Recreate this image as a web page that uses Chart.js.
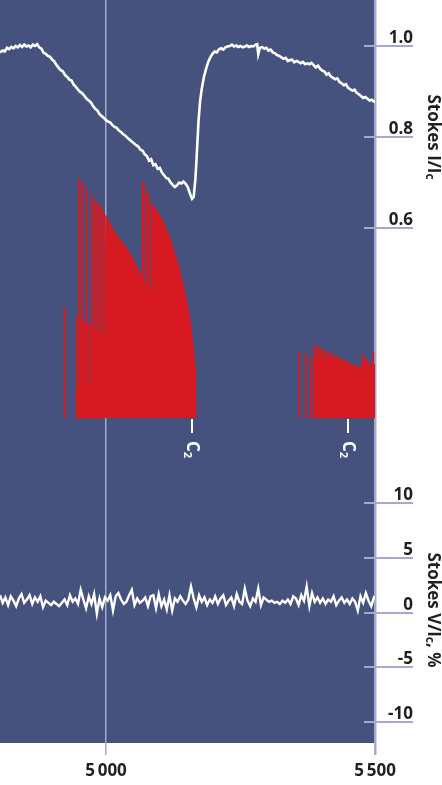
<!DOCTYPE html>
<html>
<head>
<meta charset="utf-8">
<script src="https://cdn.jsdelivr.net/npm/chart.js@4.4.1/dist/chart.umd.min.js"></script>
<style>
  html, body { margin: 0; padding: 0; background: #fff; }
  canvas { display: block; }
</style>
</head>
<body>
<canvas id="chart" width="442" height="785"></canvas>
<script>
// x axis (wavelength, A)
var xTicks = [5000, 5500];
var xTickLabels = ['5\u2009000', '5\u2009500'];
var iTicks = [0.6, 0.8, 1.0];
var vTicks = [-10, -5, 0, 5, 10];
var c2Heads = [5159, 5450];

// Stokes I/Ic
var iWave = [4803, 4808, 4812, 4816, 4820, 4824, 4828, 4832, 4836, 4840, 4844, 4848, 4852, 4856, 4860, 4864, 4868, 4872, 4876, 4880,
  4884, 4888, 4892, 4896, 4900, 4904, 4908, 4912, 4916, 4920, 4924, 4928, 4932, 4936, 4940, 4944, 4948, 4952, 4956, 4960,
  4964, 4968, 4972, 4976, 4980, 4984, 4988, 4992, 4996, 5000, 5004, 5008, 5012, 5016, 5020, 5024, 5028, 5032, 5036, 5040,
  5044, 5048, 5052, 5056, 5060, 5064, 5068, 5072, 5076, 5080, 5084, 5088, 5092, 5096, 5100, 5104, 5108, 5112, 5116, 5120,
  5124, 5128, 5132, 5136, 5140, 5144, 5148, 5152, 5156, 5160, 5163, 5166, 5168, 5170, 5172, 5175, 5178, 5182, 5186, 5190,
  5194, 5198, 5202, 5206, 5210, 5214, 5218, 5222, 5226, 5230, 5234, 5238, 5242, 5246, 5250, 5254, 5258, 5262, 5266, 5270,
  5274, 5278, 5281, 5283, 5286, 5290, 5294, 5298, 5302, 5306, 5310, 5314, 5318, 5322, 5326, 5330, 5334, 5338, 5342, 5346,
  5350, 5354, 5358, 5362, 5366, 5370, 5374, 5378, 5382, 5386, 5390, 5394, 5398, 5402, 5406, 5410, 5414, 5418, 5422, 5426,
  5430, 5434, 5438, 5442, 5446, 5450, 5454, 5458, 5462, 5466, 5470, 5474, 5478, 5482, 5486, 5490, 5494, 5498, 5500];
var iFlux = [0.986, 0.990, 0.988, 0.996, 0.993, 0.998, 0.995, 1.000, 0.997, 1.002, 0.998, 1.003, 0.999, 1.001, 0.997, 1.003, 1.000, 1.004, 0.997, 0.994,
  0.985, 0.983, 0.978, 0.976, 0.970, 0.966, 0.958, 0.952, 0.947, 0.944, 0.936, 0.932, 0.926, 0.924, 0.915, 0.910, 0.904, 0.899, 0.896, 0.890,
  0.884, 0.880, 0.876, 0.868, 0.862, 0.858, 0.850, 0.846, 0.842, 0.837, 0.834, 0.832, 0.826, 0.822, 0.820, 0.814, 0.811, 0.806, 0.803, 0.798,
  0.794, 0.790, 0.786, 0.782, 0.779, 0.772, 0.770, 0.762, 0.758, 0.748, 0.751, 0.738, 0.740, 0.730, 0.732, 0.722, 0.716, 0.710, 0.708, 0.700,
  0.695, 0.690, 0.694, 0.700, 0.698, 0.702, 0.697, 0.690, 0.676, 0.664, 0.668, 0.705, 0.745, 0.790, 0.835, 0.880, 0.906, 0.932, 0.950, 0.965,
  0.975, 0.983, 0.988, 0.986, 0.993, 0.995, 0.992, 0.997, 0.999, 1.000, 1.003, 0.999, 1.001, 0.998, 1.000, 0.997, 0.999, 1.001, 0.998, 1.000,
  0.999, 1.003, 1.004, 0.982, 0.996, 0.998, 0.994, 0.996, 0.990, 0.992, 0.986, 0.984, 0.980, 0.978, 0.975, 0.972, 0.974, 0.967, 0.969, 0.970,
  0.964, 0.967, 0.965, 0.962, 0.965, 0.960, 0.962, 0.960, 0.963, 0.958, 0.953, 0.957, 0.950, 0.946, 0.944, 0.937, 0.940, 0.933, 0.930, 0.927,
  0.929, 0.921, 0.918, 0.914, 0.916, 0.908, 0.905, 0.902, 0.904, 0.897, 0.894, 0.890, 0.886, 0.888, 0.884, 0.880, 0.882, 0.878, 0.877];

// Stokes V/Ic, %
var vWave = [4803, 4808, 4813, 4818, 4823, 4828, 4833, 4838, 4843, 4848, 4853, 4858, 4863, 4868, 4873, 4878, 4883, 4888, 4893, 4898,
  4903, 4908, 4913, 4918, 4923, 4928, 4933, 4938, 4943, 4948, 4953, 4958, 4963, 4968, 4973, 4978, 4983, 4988, 4993, 4998,
  5003, 5008, 5013, 5018, 5023, 5028, 5033, 5038, 5043, 5048, 5053, 5058, 5063, 5068, 5073, 5078, 5083, 5088, 5093, 5098,
  5103, 5108, 5113, 5118, 5123, 5128, 5133, 5138, 5143, 5148, 5153, 5158, 5163, 5168, 5173, 5178, 5183, 5188, 5193, 5198,
  5203, 5208, 5213, 5218, 5223, 5228, 5233, 5238, 5243, 5248, 5253, 5258, 5263, 5268, 5273, 5278, 5283, 5288, 5293, 5298,
  5303, 5308, 5313, 5318, 5323, 5328, 5333, 5338, 5343, 5348, 5353, 5358, 5363, 5368, 5373, 5378, 5383, 5388, 5393, 5398,
  5403, 5408, 5413, 5418, 5423, 5428, 5433, 5438, 5443, 5448, 5453, 5458, 5463, 5468, 5473, 5478, 5483, 5488, 5493, 5498, 5503];
var vPol = [1.6, 0.9, 1.4, 0.7, 1.5, 1.1, 0.6, 1.3, 1.7, 0.9,
  1.2, 1.6, 0.8, 1.4, 1.0, 1.5, 0.5, 1.1, 0.9, 0.7,
  1.0, 0.8, 0.6, 0.9, 1.2, 0.7, 1.6, 1.0, 1.3, 0.8,
  2.1, 1.2, 0.4, 1.5, 0.8, 1.7, -0.1, 1.3, 0.5, 1.4,
  1.1, 1.6, 0.2, 1.5, 1.8, 1.2, 0.8, 1.0, 1.6, 2.1,
  0.7, 1.3, 0.9, 1.1, 1.4, 0.6, 1.5, 1.6, 0.4, 1.7,
  0.6, 1.2, 0.3, 1.6, 0.2, 1.3, 1.0, 1.5, 1.1, 0.8,
  1.2, 2.4, 1.3, 0.5, 1.6, 1.0, 1.4, 0.7, 1.2, 0.9,
  1.5, 0.8, 1.3, 1.6, 0.7, 1.1, 1.4, 0.6, 1.7, 1.0,
  0.8, 2.2, 1.1, 0.6, 1.3, 1.0, 2.2, 0.7, 1.4, 1.2,
  1.0, 1.1, 0.9, 1.0, 0.8, 1.1, 0.9, 1.2, 0.8, 1.5,
  1.3, 0.7, 1.6, 1.1, 2.4, 0.6, 1.8, 1.0, 1.4, 0.9,
  1.3, 0.8, 1.2, 1.0, 1.5, 0.7, 1.1, 1.4, 0.9, 1.2,
  0.8, 1.3, 1.0, 0.2, 1.5, 0.9, 1.8, 1.1, 0.6, 1.4, 1.2];

// C2 Swan band: blended (solid) part and single lines, relative intensity
var c2BlendWave = [4944.6, 4945.0, 4976.2, 4976.8, 4997.6, 4998.5, 5007.4, 5016.7, 5026.0, 5035.3, 5044.6, 5053.9, 5063.2, 5072.5,
  5078.1, 5082.7, 5083.6, 5091.0, 5097.2, 5103.5, 5109.7, 5115.8, 5122.1, 5128.3, 5134.4, 5140.7, 5146.8, 5153.0, 5159.3,
  5162.3, 5165.4, 5167.3, 5167.8, 5387.5, 5388.5, 5416.3, 5444.2, 5472.1, 5474.9, 5475.8, 5490.7, 5502];
var c2BlendLevel = [0, 0.129, 0.133, 0.35, 0.342, 0.85, 0.8125, 0.775, 0.746, 0.721, 0.6875, 0.65, 0.604, 0.5625,
  0.542, 0.533, 0.896, 0.879, 0.858, 0.833, 0.804, 0.771, 0.733, 0.6875, 0.646, 0.5875, 0.533, 0.4625, 0.379,
  0.3125, 0.233, 0.2, 0, 0, 0.254, 0.25, 0.229, 0.2, 0.208, 0.233, 0.217, 0.2125];
var c2LineWave = [4923.2, 4945.5, 4950.4, 4953.0, 4955.9, 4957.8, 4961.0, 4964.1, 4967.1, 4971.6, 4974.0, 4976.4, 4978.3,
  4981.4, 4982.7, 4985.7, 4987.5, 4990.1, 4992.0, 4995.0, 4995.7, 5068.2, 5070.6, 5076.8, 5079.9,
  5359.3, 5371.7, 5381.6, 5387.2, 5391.6, 5395.9, 5399.6, 5403.9, 5408.9, 5413.2, 5417.6, 5422.5, 5426.9, 5430.7,
  5434.9, 5439.2, 5442.9, 5447.4, 5451.7, 5456.7, 5461.0, 5464.7, 5469.0, 5473.4, 5476.4, 5481.4, 5485.7, 5490.7,
  5496.8, 5498.7];
var c2LineLevel = [0.46, 0.426, 1.0, 0.417, 0.983, 0.40, 0.396, 0.958, 0.392, 0.3875, 0.929, 0.379, 0.904,
  0.367, 0.90, 0.354, 0.8875, 0.354, 0.875, 0.346, 0.858, 0.985, 0.971, 0.943, 0.922,
  0.274, 0.267, 0.255, 0.301, 0.297, 0.293, 0.2875, 0.283, 0.279, 0.274, 0.27, 0.264, 0.26, 0.255,
  0.249, 0.245, 0.242, 0.236, 0.232, 0.225, 0.221, 0.217, 0.214, 0.211, 0.2625, 0.253, 0.242, 0.232,
  0.27, 0.225];

var BLUE = '#45527e';
var LAV = '#a4a9cf';
var RED = '#d71a21';
var INK = '#231f20';
var FONT = '"Open Sans", "DejaVu Sans", sans-serif';

function pts(xs, ys) {
  return xs.map(function (x, i) { return { x: x, y: ys[i] }; });
}

function drawTitle(ctx, parts, cx, cy) {
  ctx.save();
  ctx.translate(cx, cy);
  ctx.rotate(Math.PI / 2);
  ctx.fillStyle = INK;
  ctx.textBaseline = 'middle';
  ctx.textAlign = 'left';
  var total = 0;
  parts.forEach(function (p) {
    ctx.font = 'bold ' + (p[1] ? 12 : 17) + 'px ' + FONT;
    total += ctx.measureText(p[0]).width;
  });
  var x = -total / 2;
  parts.forEach(function (p) {
    ctx.font = 'bold ' + (p[1] ? 12 : 17) + 'px ' + FONT;
    ctx.fillText(p[0], x, p[1] ? 4 : 0);
    x += ctx.measureText(p[0]).width;
  });
  ctx.restore();
}

var panelBg = {
  id: 'panelBg',
  beforeDraw: function (chart) {
    var a = chart.chartArea, ctx = chart.ctx;
    ctx.save();
    ctx.fillStyle = BLUE;
    ctx.fillRect(a.left, a.top, a.right - a.left, a.bottom - a.top);
    ctx.restore();
  }
};

var marks = {
  id: 'marks',
  afterDraw: function (chart) {
    var ctx = chart.ctx, a = chart.chartArea, s = chart.scales;
    ctx.save();
    // tick marks on the right axis
    ctx.strokeStyle = LAV;
    ctx.lineWidth = 2;
    ['yI', 'yV'].forEach(function (id) {
      s[id].ticks.forEach(function (t) {
        var y = Math.round(s[id].getPixelForValue(t.value));
        ctx.beginPath();
        ctx.moveTo(a.right - 11, y);
        ctx.lineTo(a.right + 38, y);
        ctx.stroke();
      });
    });
    // C2 band heads
    var y0 = s.yC.getPixelForValue(0);
    ctx.strokeStyle = '#fff';
    ctx.fillStyle = '#fff';
    ctx.lineWidth = 2;
    c2Heads.forEach(function (w) {
      var px = Math.round(s.x.getPixelForValue(w));
      ctx.beginPath();
      ctx.moveTo(px, y0 + 1);
      ctx.lineTo(px, y0 + 15);
      ctx.stroke();
      ctx.save();
      ctx.translate(px, y0 + 23);
      ctx.rotate(Math.PI / 2);
      ctx.textBaseline = 'middle';
      ctx.textAlign = 'left';
      ctx.font = 'bold 17px ' + FONT;
      ctx.fillText('C', 0, 0);
      var cw = ctx.measureText('C').width;
      ctx.font = 'bold 11px ' + FONT;
      ctx.fillText('2', cw, 5);
      ctx.restore();
    });
    ctx.restore();
    drawTitle(ctx, [['Stokes I/I', false], ['c', true]], 433, 137);
    drawTitle(ctx, [['Stokes V/I', false], ['c', true], [', %', false]], 433, 610);
  }
};

function noPad(s) {
  s.paddingTop = 0; s.paddingBottom = 0; s.paddingLeft = 0; s.paddingRight = 0;
}

new Chart(document.getElementById('chart').getContext('2d'), {
  type: 'line',
  data: {
    datasets: [{
      data: pts(iWave, iFlux),
      yAxisID: 'yI',
      borderColor: '#fff',
      borderWidth: 2.6,
      pointRadius: 0,
      tension: 0
    }, {
      data: pts(vWave, vPol),
      yAxisID: 'yV',
      borderColor: '#fff',
      borderWidth: 2.4,
      pointRadius: 0,
      tension: 0
    }, {
      type: 'bar',
      data: pts(c2LineWave, c2LineLevel),
      yAxisID: 'yC',
      backgroundColor: RED,
      barThickness: 1.3,
      borderWidth: 0
    }, {
      data: pts(c2BlendWave, c2BlendLevel),
      yAxisID: 'yC',
      borderWidth: 0,
      borderColor: RED,
      backgroundColor: RED,
      pointRadius: 0,
      fill: 'origin',
      tension: 0
    }]
  },
  options: {
    responsive: false,
    animation: false,
    devicePixelRatio: 1,
    layout: { padding: { left: 0, top: 0, bottom: 0, right: 29 } },
    plugins: { legend: { display: false }, tooltip: { enabled: false } },
    scales: {
      x: {
        type: 'linear',
        position: 'bottom',
        min: 4803,
        max: 5500,
        offset: false,
        afterBuildTicks: function (s) { s.ticks = xTicks.map(function (v) { return { value: v }; }); },
        afterFit: function (s) { s.height = 42; noPad(s); },
        border: { display: false },
        grid: {
          offset: false,
          color: LAV,
          lineWidth: function (c) { return c.tick && c.tick.value === 5500 ? 2.5 : 1.5; },
          tickLength: 12,
          drawTicks: true
        },
        ticks: {
          autoSkip: false,
          maxRotation: 0,
          minRotation: 0,
          padding: 6,
          color: INK,
          font: { family: FONT, size: 17, weight: 'bold' },
          callback: function (v) { return xTickLabels[xTicks.indexOf(v)]; }
        }
      },
      yI: {
        type: 'linear',
        position: 'right',
        stack: 'stokes',
        stackWeight: 481,
        min: 0.0440,
        max: 1.1011,
        afterBuildTicks: function (s) { s.ticks = iTicks.map(function (v) { return { value: v }; }); },
        afterFit: function (s) { s.width = 38; noPad(s); },
        border: { display: false },
        grid: { display: false, drawTicks: false, drawOnChartArea: false },
        ticks: {
          crossAlign: 'far',
          padding: 0,
          labelOffset: -8,
          color: INK,
          font: { family: FONT, size: 17, weight: 'bold' },
          callback: function (v) { return v.toFixed(1); }
        }
      },
      yV: {
        type: 'linear',
        position: 'right',
        stack: 'stokes',
        stackWeight: 262,
        min: -11.90,
        max: 12.03,
        afterBuildTicks: function (s) { s.ticks = vTicks.map(function (v) { return { value: v }; }); },
        afterFit: function (s) { s.width = 38; noPad(s); },
        border: { display: false },
        grid: { display: false, drawTicks: false, drawOnChartArea: false },
        ticks: {
          crossAlign: 'far',
          padding: 0,
          labelOffset: -8,
          color: INK,
          font: { family: FONT, size: 17, weight: 'bold' },
          callback: function (v) { return String(v); }
        }
      },
      yC: {
        type: 'linear',
        position: 'left',
        display: false,
        min: -1.3542,
        max: 1.7417
      }
    }
  },
  plugins: [panelBg, marks]
});
</script>
</body>
</html>
